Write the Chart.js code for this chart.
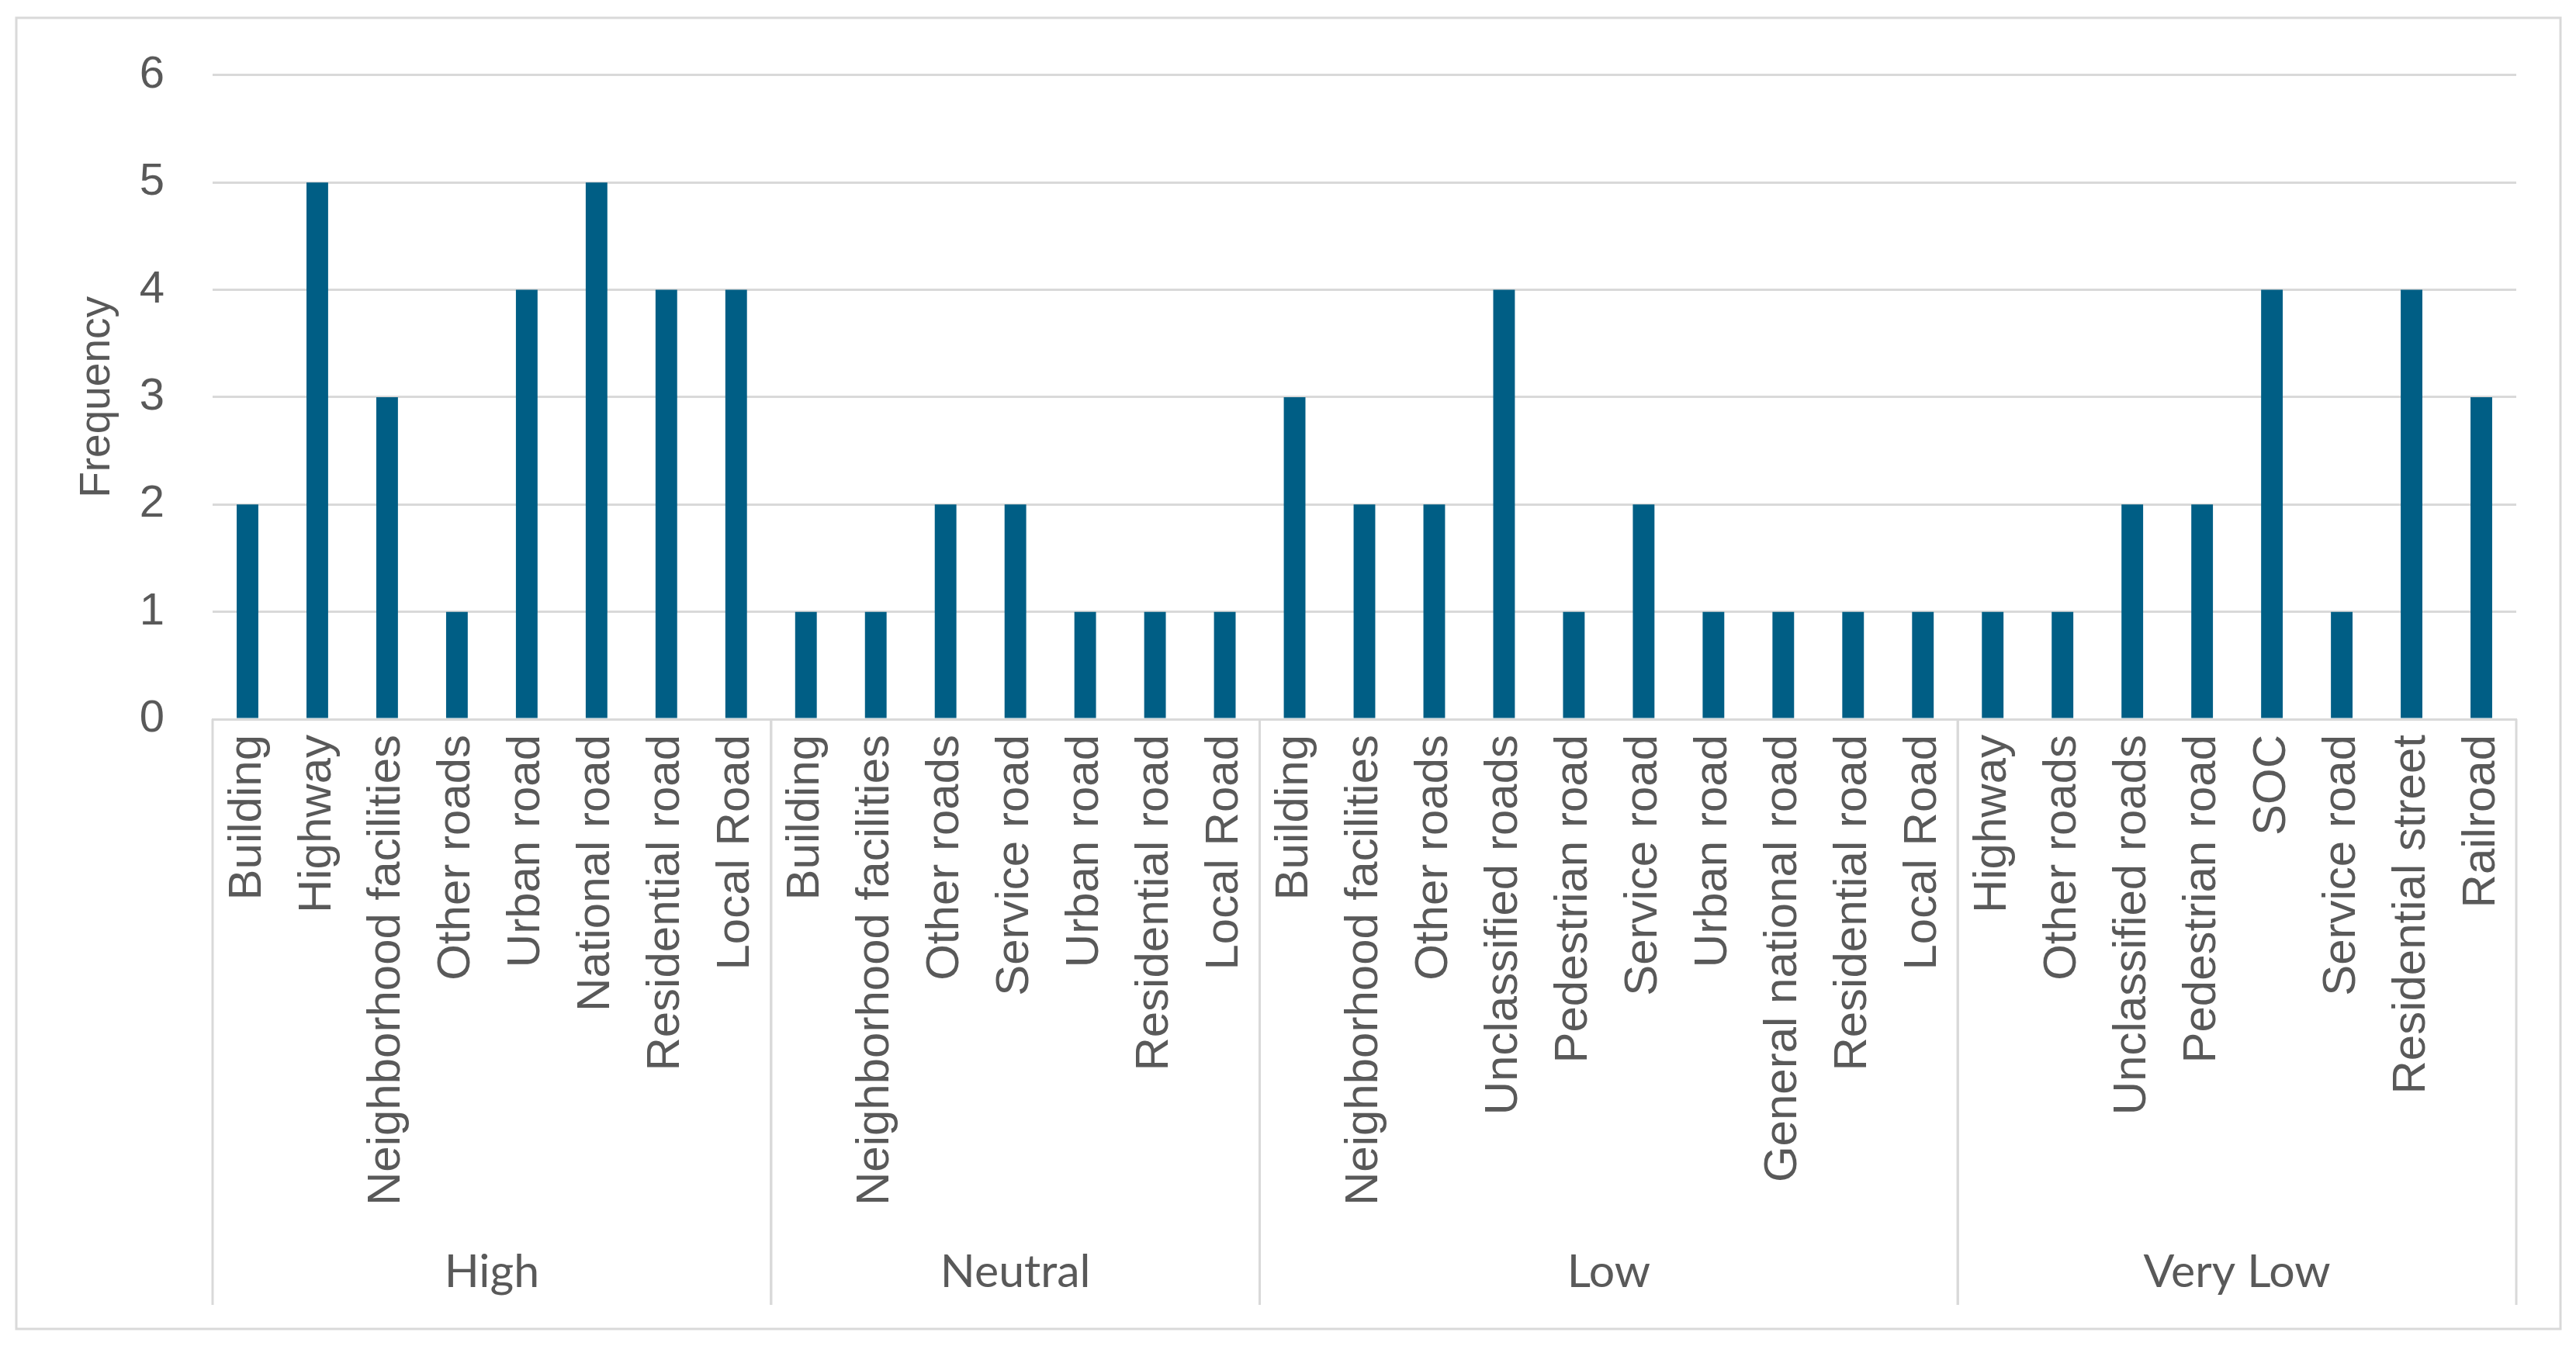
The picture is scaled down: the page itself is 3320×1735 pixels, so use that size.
<!DOCTYPE html>
<html>
<head>
<meta charset="utf-8">
<script src="https://cdn.jsdelivr.net/npm/chart.js@4.4.1/dist/chart.umd.min.js"></script>
<style>
  html, body { margin: 0; padding: 0; background: #ffffff; }
  #wrap { width: 3320px; height: 1735px; }
</style>
</head>
<body>
<div id="wrap"><canvas id="chart"></canvas></div>
<script>
// categories and values, one list per group
const groups = ['High', 'Neutral', 'Low', 'Very Low'];
const highLabels = ['Building', 'Highway', 'Neighborhood facilities', 'Other roads', 'Urban road', 'National road', 'Residential road', 'Local Road'];
const highValues = [2, 5, 3, 1, 4, 5, 4, 4];
const neutralLabels = ['Building', 'Neighborhood facilities', 'Other roads', 'Service road', 'Urban road', 'Residential road', 'Local Road'];
const neutralValues = [1, 1, 2, 2, 1, 1, 1];
const lowLabels = ['Building', 'Neighborhood facilities', 'Other roads', 'Unclassified roads', 'Pedestrian road', 'Service road', 'Urban road', 'General national road', 'Residential road', 'Local Road'];
const lowValues = [3, 2, 2, 4, 1, 2, 1, 1, 1, 1];
const veryLowLabels = ['Highway', 'Other roads', 'Unclassified roads', 'Pedestrian road', 'SOC', 'Service road', 'Residential street', 'Railroad'];
const veryLowValues = [1, 1, 2, 2, 4, 1, 4, 3];
const yTicks = [0, 1, 2, 3, 4, 5, 6];

const groupLabels = [highLabels, neutralLabels, lowLabels, veryLowLabels];
const labels = [].concat(highLabels, neutralLabels, lowLabels, veryLowLabels);
const values = [].concat(highValues, neutralValues, lowValues, veryLowValues);

const textColor = '#595959';
const lineColor = '#d9d9d9';

// outer frame of the chart
const framePlugin = {
    id: 'frame',
    beforeDraw(chart) {
        const ctx = chart.ctx;
        ctx.save();
        ctx.strokeStyle = lineColor;
        ctx.lineWidth = 3;
        ctx.strokeRect(21, 23, 3279, 1690);
        ctx.restore();
    },
};

// second level of the category axis: separators and group names
const groupAxisPlugin = {
    id: 'groupAxis',
    afterDraw(chart) {
        const ctx = chart.ctx;
        const x = chart.scales.x;
        const top = chart.chartArea.bottom;
        const step = x.getPixelForValue(1) - x.getPixelForValue(0);
        ctx.save();
        ctx.strokeStyle = lineColor;
        ctx.lineWidth = 3;
        ctx.fillStyle = textColor;
        ctx.font = '59px Lato, "Liberation Sans", sans-serif';
        ctx.textAlign = 'center';
        ctx.textBaseline = 'middle';
        let start = 0;
        groupLabels.forEach((g, i) => {
            const left = x.getPixelForValue(start) - step / 2;
            const right = x.getPixelForValue(start + g.length - 1) + step / 2;
            [left, right].forEach(px => {
                ctx.beginPath();
                ctx.moveTo(px, top);
                ctx.lineTo(px, 1682);
                ctx.stroke();
            });
            ctx.fillText(groups[i], (left + right) / 2, 1640);
            start += g.length;
        });
        ctx.restore();
    },
};

const ctx = document.getElementById('chart').getContext('2d');

const data = {
    labels: labels,
    datasets: [
        {
            label: 'Frequency',
            data: values,
            backgroundColor: '#005E85',
            barPercentage: 0.31,
            categoryPercentage: 1,
        },
    ],
};

const options = {
    responsive: true,
    maintainAspectRatio: false,
    animation: false,
    layout: {
        padding: { left: 0, top: 89, right: 77, bottom: 0 },
    },
    plugins: {
        legend: { display: false },
        tooltip: { enabled: false },
    },
    scales: {
        x: {
            grid: { display: false, drawTicks: false },
            border: { display: true, color: lineColor, width: 3 },
            ticks: {
                autoSkip: false,
                minRotation: 90,
                maxRotation: 90,
                padding: 20,
                color: textColor,
                font: { family: '"Liberation Sans", Arial, sans-serif', size: 60 },
            },
            afterFit(scale) { scale.height = 808; },
        },
        y: {
            min: 0,
            max: 6,
            afterBuildTicks(scale) { scale.ticks = yTicks.map(v => ({ value: v })); },
            grid: { color: lineColor, lineWidth: 3, drawTicks: false },
            border: { display: false },
            ticks: {
                padding: 62,
                color: textColor,
                font: { family: '"Liberation Sans", Arial, sans-serif', size: 58 },
            },
            title: {
                display: true,
                text: 'Frequency',
                color: textColor,
                padding: { top: 93, bottom: 0 },
                font: { family: '"Liberation Sans", Arial, sans-serif', size: 55 },
            },
            afterFit(scale) { scale.width = 274; },
        },
    },
};

const myChart = new Chart(ctx, {
    type: 'bar',
    data: data,
    options: options,
    plugins: [framePlugin, groupAxisPlugin],
});
</script>
</body>
</html>
